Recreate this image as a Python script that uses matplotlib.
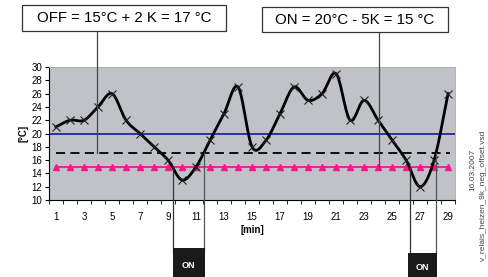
import numpy as np
import matplotlib
matplotlib.use("Agg")
from matplotlib import pyplot as plt
from matplotlib.patches import Rectangle

plt.rcParams['font.family'] = ['Liberation Sans', 'DejaVu Sans']

# temperature readings per minute
minutes = list(range(1, 30))
temps = [21, 22, 22, 24, 26, 22, 20, 18, 16, 13, 15, 19, 23, 27, 18,
         19, 23, 27, 25, 26, 29, 22, 25, 22, 19, 16, 12, 16, 26]
setpoint = 20
off_level = 17
on_level = 15
# heater ON periods (start crossing, end crossing) in minutes
on_periods = [(9.35, 11.55), (26.25, 28.1)]
off_label = "OFF = 15°C + 2 K = 17 °C"
on_label = "ON = 20°C - 5K = 15 °C"


def smooth(x, y, n=20):
    # catmull-rom like the office chart smoothing
    x = np.asarray(x, float)
    y = np.asarray(y, float)
    px = np.concatenate([[2 * x[0] - x[1]], x, [2 * x[-1] - x[-2]]])
    py = np.concatenate([[2 * y[0] - y[1]], y, [2 * y[-1] - y[-2]]])
    xs, ys = [], []
    t = np.linspace(0, 1, n, endpoint=False)
    for i in range(1, len(px) - 2):
        for p, out in ((px, xs), (py, ys)):
            p0, p1, p2, p3 = p[i - 1], p[i], p[i + 1], p[i + 2]
            out.extend(0.5 * ((2 * p1) + (-p0 + p2) * t
                              + (2 * p0 - 5 * p1 + 4 * p2 - p3) * t ** 2
                              + (-p0 + 3 * p1 - 3 * p2 + p3) * t ** 3))
    xs.append(x[-1])
    ys.append(y[-1])
    return np.array(xs), np.array(ys)


fig = plt.figure(figsize=(4.89, 2.77), dpi=100)
ax = fig.add_axes([0.1002, 0.278, 0.8305, 0.480])
ax.set_facecolor('#c0c2c8')

ax.axhline(setpoint, color='#1c2a9a', lw=1.3, zorder=2)
ax.axhline(off_level, xmin=0.5 / 29, xmax=28.6 / 29, color='black', lw=1.3,
           ls=(0, (5, 3)), zorder=2)
ax.plot(minutes, [on_level] * len(minutes), color='#f0188c', lw=1.3,
        marker='^', ms=4.5, zorder=3)

sx, sy = smooth(minutes, temps)
ax.plot(sx, sy, color='black', lw=2.0, zorder=4)
ax.plot(minutes, temps, ls='none', marker='x', color='#222222', ms=6,
        mew=0.8, zorder=5)

ax.set_xlim(0.5, 29.5)
ax.set_ylim(10, 30)
ax.set_yticks(range(10, 31, 2))
ax.set_xticks(range(1, 30, 2))
ax.set_xticks(np.arange(0.5, 30, 1), minor=True)
ax.tick_params(axis='x', which='major', length=0, labelsize=7, pad=9)
ax.tick_params(axis='x', which='minor', length=3, direction='out')
ax.tick_params(axis='y', length=3, labelsize=7, pad=2)
for s in ('top', 'right'):
    ax.spines[s].set_color('#a8a8a8')
    ax.spines[s].set_linewidth(0.6)
ax.set_ylabel('[°C]', fontsize=7, fontweight='bold', labelpad=2)
ax.set_xlabel('[min]', fontsize=7, fontweight='bold', labelpad=2)

# callout lines to the threshold lines
ax.plot([3.9, 3.9], [off_level, 37.2], color='#444444', lw=0.9,
        clip_on=False, zorder=6)
ax.plot([24.1, 24.1], [on_level, 37.0], color='#444444', lw=0.9,
        clip_on=False, zorder=6)

# lines down to the ON boxes
for start, end in on_periods:
    ax.plot([start, start], [on_level, 2.0], color='#333333', lw=0.9,
            clip_on=False, zorder=6)
    ax.plot([end, end], [off_level, 2.0], color='#555555', lw=0.9,
            clip_on=False, zorder=6)

# boxes (figure pixels)
W, H = 489.0, 277.0


def fbox(x0, y0, x1, y1, **kw):
    r = Rectangle((x0 / W, 1 - y1 / H), (x1 - x0) / W, (y1 - y0) / H,
                  transform=fig.transFigure, **kw)
    fig.patches.append(r)


fbox(22, 5, 226, 31, facecolor='white', edgecolor='#333333', lw=0.9)
fig.text(124 / W, 1 - 18.5 / H, off_label, ha='center', va='center',
         fontsize=10.8)
fbox(262, 7, 448, 32, facecolor='white', edgecolor='#333333', lw=0.9)
fig.text(355 / W, 1 - 20 / H, on_label, ha='center', va='center',
         fontsize=10.8)

# ON boxes
for x0, x1, y0, ty in ((172.5, 205, 248, 265), (408.5, 437, 253, 267)):
    fbox(x0, y0, x1, 277, facecolor='#1a1a1a', edgecolor='none')
    fig.text((x0 + x1) / 2 / W, 1 - ty / H, 'ON', ha='center', va='center',
             fontsize=6.5, fontweight='bold', color='white')

fig.text(473 / W, 1 - 170 / H, '16.03.2007', rotation=90, ha='center',
         va='center', fontsize=6, color='#444444')
fig.text(483 / W, 1 - 195 / H, 'v_relais_heizen_9k_neg_offset.vsd',
         rotation=90, ha='center', va='center', fontsize=6, color='#444444')

fig.savefig('out.png', dpi=100)
